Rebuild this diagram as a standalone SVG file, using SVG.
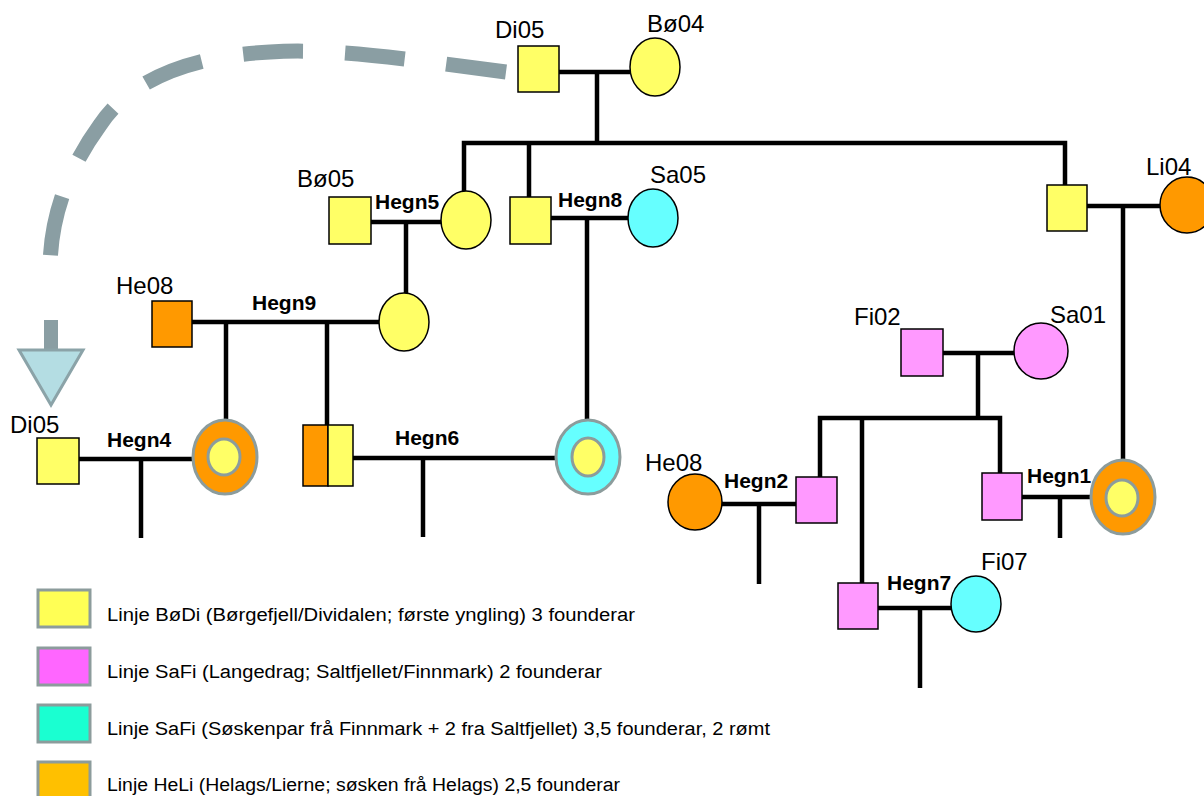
<svg xmlns="http://www.w3.org/2000/svg" width="1204" height="796" viewBox="0 0 1204 796">
<style>
.y{fill:#ffff66;stroke:#000;stroke-width:1.5}
.o{fill:#ff9900;stroke:#000;stroke-width:1.5}
.p{fill:#ff99ff;stroke:#000;stroke-width:1.5}
.c{fill:#66ffff;stroke:#000;stroke-width:1.5}
.ro{fill:#ff9900;stroke:#8c9c9c;stroke-width:3}
.rc{fill:#66ffff;stroke:#8c9c9c;stroke-width:3}
.ri{fill:#ffff66;stroke:#8c9c9c;stroke-width:3}
.lk{stroke:#000;stroke-width:4.5;fill:none}
.nm{font-family:"Liberation Sans",Arial,sans-serif;font-size:24px;fill:#000}
.hg{font-family:"Liberation Sans",Arial,sans-serif;font-size:21px;font-weight:bold;fill:#000}
.lg{font-family:"Liberation Sans",Arial,sans-serif;font-size:18px;fill:#000}
.lb{stroke:#8c9c9c;stroke-width:3}
</style>
<rect width="1204" height="796" fill="#fff"/>

<g id="transfer-arrow">
<path d="M 506 72 C 400 58 330 48 270 52 C 190 56 130 80 100 125 C 60 180 50 230 50 270" fill="none" stroke="#8a9ea3" stroke-width="15" stroke-dasharray="60 42"/>
<line x1="51" y1="320" x2="51" y2="352" stroke="#8a9ea3" stroke-width="14"/>
<polygon points="19,350 83,350 51,405" fill="#b4dde3" stroke="#8ba3a8" stroke-width="3"/>
</g>

<g id="connectors">
<line class="lk" x1="559" y1="72" x2="630" y2="72" stroke-width="5"/>
<line class="lk" x1="597" y1="72" x2="597" y2="143"/>
<polyline class="lk" points="464,192 464,143 1065,143 1065,185"/>
<line class="lk" x1="529" y1="143" x2="529" y2="197"/>
<line class="lk" x1="371" y1="222" x2="441" y2="222"/>
<line class="lk" x1="406" y1="222" x2="406" y2="293"/>
<line class="lk" x1="551" y1="218" x2="628" y2="218"/>
<line class="lk" x1="587" y1="218" x2="587" y2="420"/>
<line class="lk" x1="1087" y1="206" x2="1160" y2="206"/>
<line class="lk" x1="1123" y1="206" x2="1123" y2="460"/>
<line class="lk" x1="192" y1="322" x2="379" y2="322"/>
<line class="lk" x1="226" y1="322" x2="226" y2="420"/>
<line class="lk" x1="327" y1="322" x2="327" y2="425"/>
<line class="lk" x1="79" y1="459" x2="193" y2="459"/>
<line class="lk" x1="141" y1="459" x2="141" y2="538"/>
<line class="lk" x1="353" y1="458" x2="556" y2="458"/>
<line class="lk" x1="423" y1="458" x2="423" y2="537"/>
<line class="lk" x1="943" y1="353" x2="1014" y2="353"/>
<line class="lk" x1="978" y1="353" x2="978" y2="418"/>
<polyline class="lk" points="820,477 820,418 1000,418 1000,473"/>
<line class="lk" x1="862" y1="418" x2="862" y2="583"/>
<line class="lk" x1="722" y1="504" x2="796" y2="504"/>
<line class="lk" x1="759" y1="504" x2="759" y2="584"/>
<line class="lk" x1="1022" y1="497" x2="1091" y2="497"/>
<line class="lk" x1="1060" y1="497" x2="1060" y2="538"/>
<line class="lk" x1="878" y1="608" x2="951" y2="608"/>
<line class="lk" x1="920" y1="608" x2="920" y2="688"/>
</g>

<g id="n-di05-top"><rect class="y" x="518" y="46" width="41" height="46"/><text class="nm" x="495" y="38">Di05</text></g>
<g id="n-bo04"><ellipse class="y" cx="655" cy="67" rx="25" ry="29"/><text class="nm" x="647" y="32">Bø04</text></g>
<g id="n-bo05"><rect class="y" x="329" y="197" width="42" height="47"/><text class="nm" x="297" y="187">Bø05</text></g>
<g id="n-hegn5-f"><ellipse class="y" cx="466" cy="220" rx="25" ry="29"/><text class="hg" x="375" y="209">Hegn5</text></g>
<g id="n-hegn8-m"><rect class="y" x="510" y="197" width="41" height="47"/><text class="hg" x="558" y="207">Hegn8</text></g>
<g id="n-sa05"><ellipse class="c" cx="653" cy="218" rx="25" ry="29"/><text class="nm" x="650" y="183">Sa05</text></g>
<g id="n-li04-m"><rect class="y" x="1047" y="185" width="40" height="46"/></g>
<g id="n-li04"><ellipse class="o" cx="1187" cy="205" rx="27" ry="28"/><text class="nm" x="1146" y="175">Li04</text></g>
<g id="n-he08-left"><rect class="o" x="152" y="301" width="40" height="46"/><text class="nm" x="116" y="294">He08</text></g>
<g id="n-hegn9-f"><ellipse class="y" cx="404" cy="322" rx="25" ry="29"/><text class="hg" x="252" y="310">Hegn9</text></g>
<g id="n-di05-left"><rect class="y" x="37" y="438" width="42" height="46"/><text class="nm" x="10" y="433">Di05</text></g>
<g id="n-hegn4-ring"><ellipse class="ro" cx="225" cy="457" rx="32" ry="37"/><ellipse class="ri" cx="224" cy="457" rx="16" ry="18"/><text class="hg" x="107" y="447">Hegn4</text></g>
<g id="n-split"><rect class="o" x="303" y="425" width="25" height="61"/><rect class="y" x="328" y="425" width="25" height="61"/></g>
<g id="n-hegn6-ring"><ellipse class="rc" cx="588" cy="457" rx="32" ry="37"/><ellipse class="ri" cx="588" cy="457" rx="16" ry="19"/><text class="hg" x="395" y="445">Hegn6</text></g>
<g id="n-he08-right"><ellipse class="o" cx="695" cy="502" rx="27" ry="28"/><text class="nm" x="645" y="471">He08</text></g>
<g id="n-hegn2-m"><rect class="p" x="796" y="477" width="41" height="46"/><text class="hg" x="724" y="488">Hegn2</text></g>
<g id="n-fi02"><rect class="p" x="901" y="329" width="42" height="47"/><text class="nm" x="854" y="325">Fi02</text></g>
<g id="n-sa01"><ellipse class="p" cx="1041" cy="351" rx="27" ry="28"/><text class="nm" x="1050" y="323">Sa01</text></g>
<g id="n-hegn1-m"><rect class="p" x="982" y="473" width="40" height="47"/><text class="hg" x="1027" y="483">Hegn1</text></g>
<g id="n-hegn1-ring"><ellipse class="ro" cx="1123" cy="497" rx="32" ry="37"/><ellipse class="ri" cx="1122" cy="498" rx="16" ry="18"/></g>
<g id="n-hegn7-m"><rect class="p" x="838" y="583" width="40" height="46"/><text class="hg" x="887" y="590">Hegn7</text></g>
<g id="n-fi07"><ellipse class="c" cx="976" cy="604" rx="25" ry="28"/><text class="nm" x="981" y="570">Fi07</text></g>

<g id="legend">
<rect class="lb" x="38" y="590" width="52" height="37" fill="#ffff55"/>
<text class="lg" x="107" y="621" textLength="528" lengthAdjust="spacingAndGlyphs">Linje BøDi (Børgefjell/Dividalen;  første yngling)  3 founderar</text>
<rect class="lb" x="38" y="648" width="52" height="37" fill="#ff66ff"/>
<text class="lg" x="107" y="678" textLength="495" lengthAdjust="spacingAndGlyphs">Linje SaFi (Langedrag; Saltfjellet/Finnmark)  2 founderar</text>
<rect class="lb" x="38" y="705" width="52" height="37" fill="#1affd1"/>
<text class="lg" x="107" y="735" textLength="663" lengthAdjust="spacingAndGlyphs">Linje SaFi (Søskenpar frå Finnmark  + 2 fra Saltfjellet)  3,5 founderar, 2 rømt</text>
<rect class="lb" x="38" y="762" width="52" height="37" fill="#ffc000"/>
<text class="lg" x="107" y="791" textLength="513" lengthAdjust="spacingAndGlyphs">Linje HeLi (Helags/Lierne; søsken frå Helags) 2,5 founderar</text>
</g>
</svg>
